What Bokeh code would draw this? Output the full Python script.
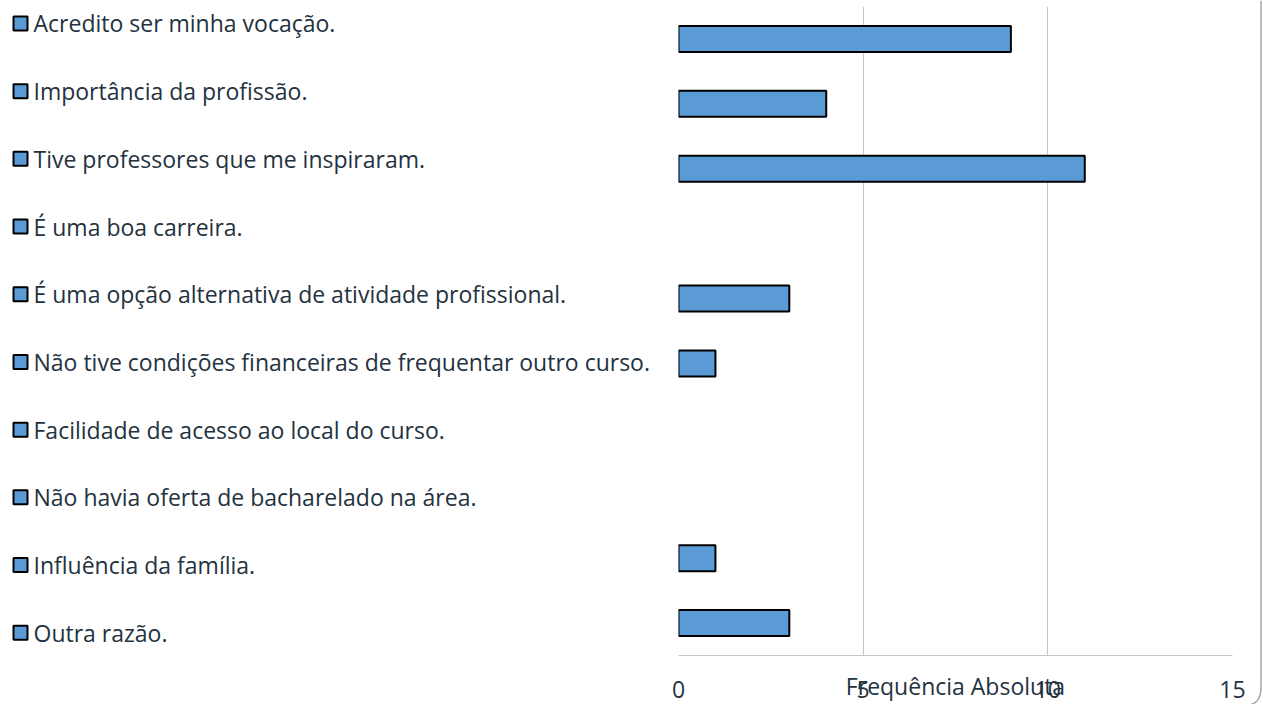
from bokeh.plotting import figure
from bokeh.layouts import row, column
from bokeh.models import FixedTicker, ColumnDataSource, Range1d, FactorRange
from bokeh.core.properties import value
from bokeh.embed import file_html
from bokeh.resources import INLINE

categories = [
    "Acredito ser minha vocação.",
    "Importância da profissão.",
    "Tive professores que me inspiraram.",
    "É uma boa carreira.",
    "É uma opção alternativa de atividade profissional.",
    "Não tive condições financeiras de frequentar outro curso.",
    "Facilidade de acesso ao local do curso.",
    "Não havia oferta de bacharelado na área.",
    "Influência da família.",
    "Outra razão.",
]
counts = [9, 4, 11, 0, 3, 1, 0, 0, 1, 3]
x_ticks = [0, 5, 10, 15]
x_title = "Frequência Absoluta"

BAR = "#5b9bd5"
TEXT = "#243240"
FONT = "Open Sans"
FS = "23px"
H = 704
MT, MB = 6, 48

# ---- legend panel (left); its frame is aligned with the bar chart's frame ----
LW = 650
leg = figure(width=LW, height=H, x_range=Range1d(0, LW), y_range=Range1d(H - MB, MT),
             x_axis_location=None, y_axis_location=None, toolbar_location=None,
             output_backend="svg", min_border_left=0, min_border_right=0,
             min_border_top=MT, min_border_bottom=MB, outline_line_color=None)
leg.grid.visible = False
step = 67.8
n = len(categories)
ys = [23 + i * step for i in range(n)]
lsrc = ColumnDataSource(dict(x=[20] * n, tx=[33] * n, y=ys, label=categories))
leg.scatter(x="x", y="y", source=lsrc, marker="square", size=14, fill_color=BAR,
            line_color="black", line_width=2)
leg.text(x="tx", y="y", text="label", source=lsrc, text_baseline="middle", text_align="left",
         text_font=value(FONT), text_font_size=FS, text_color=TEXT)

# ---- bar chart ----
MW = 598
nz = [(c, v) for c, v in zip(categories, counts) if v > 0]
src = ColumnDataSource(dict(cat=[c for c, _ in nz], val=[v for _, v in nz]))
p = figure(width=MW, height=H, y_range=FactorRange(*categories[::-1]),
           x_range=Range1d(x_ticks[0], x_ticks[-1]), toolbar_location=None,
           output_backend="svg", min_border_left=28, min_border_right=16,
           min_border_top=MT, min_border_bottom=MB, outline_line_color=None)
p.hbar(y="cat", right="val", left=0, height=0.4, source=src, fill_color=BAR,
       line_color="black", line_width=2)
p.yaxis.visible = False
p.ygrid.visible = False
p.xgrid.ticker = FixedTicker(ticks=x_ticks)
p.xgrid.grid_line_color = "#c6c6c6"
p.xaxis.ticker = FixedTicker(ticks=x_ticks)
p.xaxis.axis_line_color = "#c6c6c6"
p.xaxis.major_tick_line_color = None
p.xaxis.minor_tick_line_color = None
p.xaxis.major_label_standoff = 19
p.xaxis.major_label_text_font = FONT
p.xaxis.major_label_text_font_size = FS
p.xaxis.major_label_text_color = TEXT
p.xaxis.axis_label = x_title
p.xaxis.axis_label_text_font = FONT
p.xaxis.axis_label_text_font_size = FS
p.xaxis.axis_label_text_font_style = "normal"
p.xaxis.axis_label_text_color = TEXT
p.xaxis.axis_label_standoff = -31

# ---- chart-area border edge (right) ----
BW = 1263 - LW - MW
b = figure(width=BW, height=H, x_range=Range1d(0, BW), y_range=Range1d(H, 0),
           x_axis_location=None, y_axis_location=None, toolbar_location=None,
           output_backend="svg", min_border=0, outline_line_color=None)
b.grid.visible = False
b.line(x=[12.5, 12.5], y=[0, 686], line_color="#a6a6a6", line_width=1.5)
b.bezier(x0=12.5, y0=686, x1=2, y1=704, cx0=12.5, cy0=699, cx1=8, cy1=703,
         line_color="#a6a6a6", line_width=1.5)

layout = row(leg, p, column(b))
open("out.html", "w").write(file_html(layout, INLINE))
